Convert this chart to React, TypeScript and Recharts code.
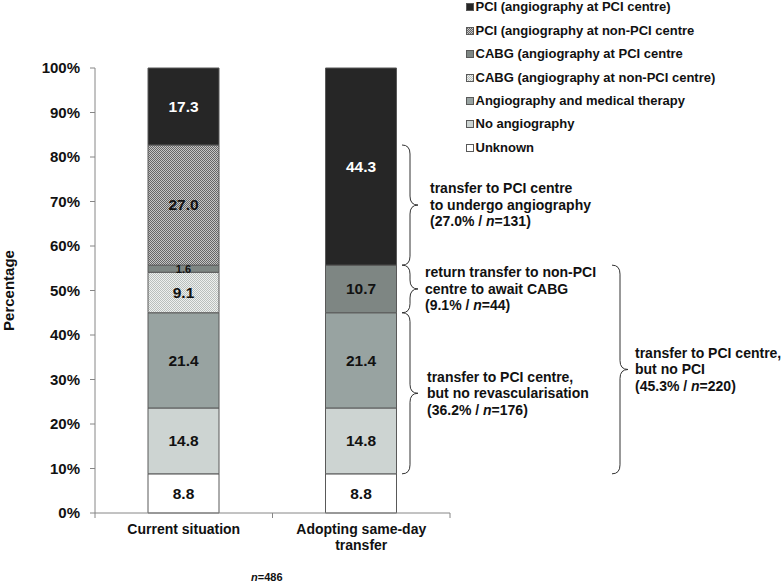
import { Bar, BarChart, LabelList, ReferenceArea, Text, XAxis, YAxis } from "recharts";

const categories = ["Current situation", "Adopting same-day transfer"];

// percentages, one value per category
const unknown = [8.8, 8.8];
const noAngiography = [14.8, 14.8];
const angioMedical = [21.4, 21.4];
const cabgNonPci = [9.1, 0];
const cabgPci = [1.6, 10.7];
const pciNonPci = [27.0, 0];
const pciPci = [17.3, 44.3];

const yTicks = [0, 10, 20, 30, 40, 50, 60, 70, 80, 90, 100];

const FONT = "'Liberation Sans', Arial, sans-serif";
const EDGE = "#595959";
const AXIS = "#868686";

// bottom to top in the stack
const series = [
  { key: "unknown", name: "Unknown", values: unknown, fill: "#ffffff", text: "#111" },
  { key: "noAngio", name: "No angiography", values: noAngiography, fill: "#cdd4d2", text: "#111" },
  { key: "angioMed", name: "Angiography and medical therapy", values: angioMedical, fill: "#98a3a1", text: "#111" },
  { key: "cabgNon", name: "CABG (angiography at non-PCI centre)", values: cabgNonPci, fill: "url(#patLight)", text: "#111" },
  { key: "cabgPci", name: "CABG (angiography at PCI centre", values: cabgPci, fill: "#7e8683", text: "#111" },
  { key: "pciNon", name: "PCI (angiography at non-PCI centre", values: pciNonPci, fill: "url(#patDark)", text: "#111" },
  { key: "pciPci", name: "PCI (angiography at PCI centre)", values: pciPci, fill: "#262626", text: "#ffffff" },
];

const data = categories.map((name, i) => {
  const row: Record<string, string | number> = { name };
  series.forEach((s) => (row[s.key] = s.values[i]));
  return row;
});

// stack boundaries used by the brace notes
const base = unknown[0];
const medTop = base + noAngiography[0] + angioMedical[0];
const cabgTop = medTop + cabgNonPci[0] + cabgPci[0];
const pciTop = cabgTop + pciNonPci[0];

const notes = [
  { y1: cabgTop, y2: pciTop, lines: ["transfer to PCI centre", "to undergo angiography"], pct: "27.0", n: 131, bx: -48, gap: 12 },
  { y1: medTop, y2: cabgTop, lines: ["return transfer to non-PCI", "centre to await CABG"], pct: "9.1", n: 44, bx: -48, gap: 7 },
  { y1: base, y2: medTop, lines: ["transfer to PCI centre,", "but no revascularisation"], pct: "36.2", n: 176, bx: -48, gap: 9 },
  { y1: base, y2: cabgTop, lines: ["transfer to PCI centre,", "but no PCI"], pct: "45.3", n: 220, bx: 162, gap: 7 },
];

function BraceNote(props: any) {
  const { x, y, width, height, note } = props;
  const x0 = x + width + note.bx;
  const x1 = x0 + 8;
  const x2 = x0 + 16;
  const top = y;
  const bot = y + height;
  const mid = y + height / 2;
  const r = Math.min(9, height / 4);
  const d = `M${x0},${top} Q${x1},${top} ${x1},${top + r} L${x1},${mid - r} Q${x1},${mid} ${x2},${mid} Q${x1},${mid} ${x1},${mid + r} L${x1},${bot - r} Q${x1},${bot} ${x0},${bot}`;
  const tx = x2 + note.gap;
  return (
    <g>
      <path d={d} fill="none" stroke="#333" strokeWidth={1} />
      <text x={tx} y={mid - 16.5} dy="0.35em" fontSize={14} fontWeight="bold" fontFamily={FONT} fill="#111">
        <tspan x={tx}>{note.lines[0]}</tspan>
        <tspan x={tx} dy={16.5}>{note.lines[1]}</tspan>
        <tspan x={tx} dy={16.5}>({note.pct}% / </tspan>
        <tspan fontStyle="italic">n</tspan>
        <tspan>={note.n})</tspan>
      </text>
    </g>
  );
}

const valueLabel = (color: string) => (props: any) => {
  const { x, y, width, height, value } = props;
  if (!value) return null;
  const small = value < 3;
  return (
    <text
      x={x + width / 2}
      y={y + height / 2}
      dy="0.35em"
      textAnchor="middle"
      fill={color}
      fontSize={small ? 11 : 15.5}
      fontWeight="bold"
      fontFamily={FONT}
    >
      {Number(value).toFixed(1)}
    </text>
  );
};

// category label plus Excel-style tick marks on the band edges
function CategoryTick(props: any) {
  const { x, y, payload, width, visibleTicksCount, index } = props;
  const half = width / visibleTicksCount / 2;
  const axisY = y - 8;
  return (
    <g>
      {index === 0 && <line x1={x - half} x2={x - half} y1={axisY} y2={axisY + 5} stroke={AXIS} />}
      <line x1={x + half} x2={x + half} y1={axisY} y2={axisY + 5} stroke={AXIS} />
      <Text
        x={x}
        y={y + 3}
        width={150}
        textAnchor="middle"
        verticalAnchor="start"
        lineHeight={16}
        fill="#111"
        style={{ fontSize: 14, fontWeight: "bold", fontFamily: FONT }}
      >
        {payload.value}
      </Text>
    </g>
  );
}

function Swatch({ fill }: { fill: string }) {
  return (
    <svg width={8} height={8} style={{ position: "absolute", left: 466, top: 4 }}>
      <rect x={0.5} y={0.5} width={7} height={7} fill={fill} stroke={EDGE} strokeWidth={1} />
    </svg>
  );
}

export default function App() {
  const legendItems = [...series].reverse();
  return (
    <div style={{ position: "absolute", left: 0, top: 0, width: 783, height: 588, background: "#fff", fontFamily: FONT }}>
      <BarChart width={783} height={588} data={data} margin={{ top: 68, right: 333, bottom: 25, left: 0 }}>
        <defs>
          <pattern id="patDark" width={2} height={2} patternUnits="userSpaceOnUse">
            <rect width={2} height={2} fill="#c6c6c6" />
            <rect width={1} height={1} fill="#666" />
            <rect x={1} y={1} width={1} height={1} fill="#666" />
          </pattern>
          <pattern id="patLight" width={2} height={2} patternUnits="userSpaceOnUse">
            <rect width={2} height={2} fill="#eef0ef" />
            <rect width={1} height={1} fill="#b9bfbc" />
            <rect x={1} y={1} width={1} height={1} fill="#b9bfbc" />
          </pattern>
        </defs>
        <XAxis
          dataKey="name"
          height={50}
          axisLine={{ stroke: AXIS }}
          tickLine={false}
          tickSize={6}
          tickMargin={2}
          tick={<CategoryTick />}
          interval={0}
        />
        <YAxis
          type="number"
          domain={[0, 100]}
          ticks={yTicks}
          width={95}
          tickSize={5}
          tickMargin={10}
          tickFormatter={(v) => `${v}%`}
          axisLine={{ stroke: AXIS }}
          tickLine={{ stroke: AXIS }}
          tick={{ fill: "#111", fontSize: 15, fontWeight: "bold", fontFamily: FONT }}
          label={{
            value: "Percentage",
            angle: -90,
            position: "insideLeft",
            offset: 9,
            style: { textAnchor: "middle", fontSize: 15, fontWeight: "bold", fontFamily: FONT, fill: "#111" },
          }}
        />
        {series.map((s) => (
          <Bar key={s.key} dataKey={s.key} stackId="a" fill={s.fill} stroke={EDGE} strokeWidth={1} barSize={71} isAnimationActive={false}>
            <LabelList dataKey={s.key} content={valueLabel(s.text)} />
          </Bar>
        ))}
        {notes.map((note, i) => (
          <ReferenceArea
            key={i}
            y1={note.y1}
            y2={note.y2}
            ifOverflow="visible"
            shape={(p: any) => <BraceNote {...p} note={note} />}
          />
        ))}
      </BarChart>
      {legendItems.map((s, i) => (
        <div
          key={s.key}
          style={{
            position: "absolute",
            left: 0,
            top: 7.3 + i * 23.4 - 8,
            height: 16,
            width: 783,
            fontSize: 13,
            fontWeight: "bold",
            lineHeight: "16px",
            color: "#111",
          }}
        >
          <Swatch fill={s.fill} />
          <span style={{ position: "absolute", left: 475.5, top: 0, whiteSpace: "nowrap" }}>{s.name}</span>
        </div>
      ))}
      <div style={{ position: "absolute", left: 251, top: 570, fontSize: 11, fontWeight: "bold", lineHeight: "14px", color: "#111" }}>
        <i>n</i>=486
      </div>
    </div>
  );
}
